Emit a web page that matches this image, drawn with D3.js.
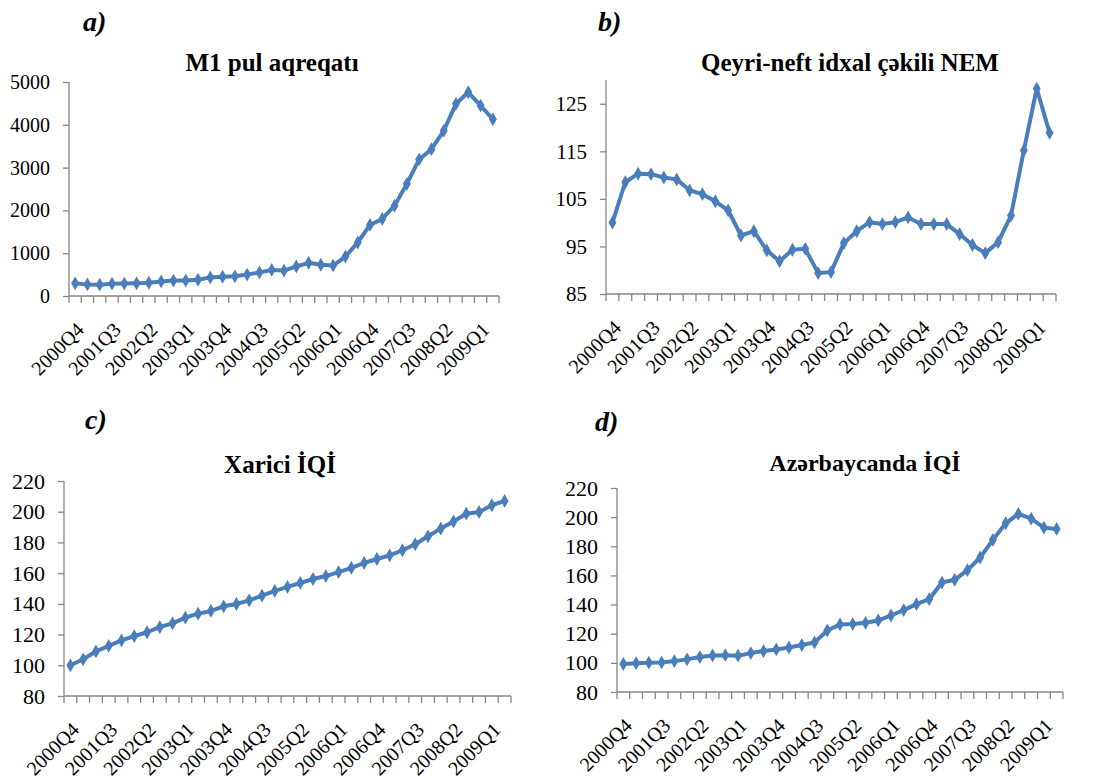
<!DOCTYPE html>
<meta charset="utf-8">
<script src="https://cdn.jsdelivr.net/npm/d3@7"></script>
<body style="margin:0;background:#fff">
<svg id="chart" width="1093" height="778"></svg>
<script>

// quarters on the x axis, 2000Q4 .. 2009Q2
var quarters = ["2000Q4",
	"2001Q1","2001Q2","2001Q3","2001Q4",
	"2002Q1","2002Q2","2002Q3","2002Q4",
	"2003Q1","2003Q2","2003Q3","2003Q4",
	"2004Q1","2004Q2","2004Q3","2004Q4",
	"2005Q1","2005Q2","2005Q3","2005Q4",
	"2006Q1","2006Q2","2006Q3","2006Q4",
	"2007Q1","2007Q2","2007Q3","2007Q4",
	"2008Q1","2008Q2","2008Q3","2008Q4",
	"2009Q1","2009Q2"]
// only every third quarter gets a label
var shownQuarters = ["2000Q4","2001Q3","2002Q2","2003Q1","2003Q4","2004Q3",
	"2005Q2","2006Q1","2006Q4","2007Q3","2008Q2","2009Q1"]

// a) M1 pul aqreqati
var m1 = [295,270,265,288,290,295,310,340,360,360,380,435,450,460,500,550,610,595,
	690,775,730,710,920,1250,1660,1800,2110,2620,3190,3430,3860,4490,4760,4450,4130]
var m1Ticks = [0,1000,2000,3000,4000,5000]

// b) Qeyri-neft idxal cekili NEM
var nem = [100,108.5,110.3,110.2,109.5,109.1,106.8,106,104.5,102.6,97.3,98.2,94.2,91.9,
	94.3,94.5,89.4,89.6,95.7,98.2,100.1,99.7,100.1,101.1,99.7,99.7,99.7,97.6,95.3,93.6,
	95.9,101.5,115.2,128.2,118.9]
var nemTicks = [85,95,105,115,125]

// c) Xarici IQI
var xariciIqi = [100,103.9,109,112.6,116.2,119,121.5,124.9,127.3,131,133.6,135.4,138.4,
	139.9,142.3,145.3,148.4,151,153.6,156.2,158.1,160.7,163.4,166.6,169.2,171.6,174.9,
	178.8,184,189,193.7,198.7,199.8,204.2,207]
var iqiTicks = [80,100,120,140,160,180,200,220]

// d) Azerbaycanda IQI
var azIqi = [99.2,99.8,100.1,100.3,101.2,102.4,104,105.1,105.3,104.9,106.7,108.1,109.2,
	110.6,112.2,114,122.2,126.4,126.6,127.5,129.1,132.5,136.2,140.3,143.7,155.1,157,163.6,
	172.3,184.4,195.8,202.2,199,192.8,191.9]

var lineColor = "#4A7EBB"
var axisColor = "#868686"
var font = "Liberation Serif"

var svg = d3.select("#chart")

var panels = [
	{tag:"a)", tagX:83, tagY:31, title:"M1 pul aqreqatı", titleX:272, titleY:71, titleSize:25,
	 values:m1, ticks:m1Ticks, domain:[0,5000],
	 x0:69, x1:499, top:82, bottom:296, ySize:20},
	{tag:"b)", tagX:598, tagY:31, title:"Qeyri-neft idxal çəkili NEM", titleX:850, titleY:71, titleSize:25,
	 values:nem, ticks:nemTicks, domain:[85,130],
	 x0:606, x1:1056, top:80, bottom:294, ySize:21},
	{tag:"c)", tagX:85, tagY:429, title:"Xarici İQİ", titleX:280, titleY:473, titleSize:25,
	 values:xariciIqi, ticks:iqiTicks, domain:[80,220],
	 x0:64, x1:511, top:481, bottom:696, ySize:22},
	{tag:"d)", tagX:595, tagY:431, title:"Azərbaycanda İQİ", titleX:865, titleY:471, titleSize:24,
	 values:azIqi, ticks:iqiTicks, domain:[80,220],
	 x0:617, x1:1063, top:488, bottom:692, ySize:22}
]

panels.forEach(drawPanel)

function drawPanel(p){
	var g = svg.append("g")

	g.append("text").attr("x",p.tagX).attr("y",p.tagY)
		.style("font-family",font).style("font-size","28px")
		.style("font-weight","bold").style("font-style","italic")
		.text(p.tag)
	g.append("text").attr("x",p.titleX).attr("y",p.titleY)
		.attr("text-anchor","middle")
		.style("font-family",font).style("font-size",p.titleSize+"px").style("font-weight","bold")
		.text(p.title)

	var x = d3.scaleBand().domain(quarters).range([p.x0,p.x1])
	var y = d3.scaleLinear().domain(p.domain).range([p.bottom,p.top])
	var cx = function(q){ return x(q) + x.bandwidth()/2 }

	// y axis
	var yAxis = g.append("g").attr("transform","translate("+p.x0+",0)")
		.call(d3.axisLeft(y).tickValues(p.ticks).tickFormat(d3.format("d"))
			.tickSize(6).tickPadding(13).tickSizeOuter(0))
	yAxis.select(".domain").attr("d","M0,"+p.top+"V"+p.bottom)
	yAxis.selectAll("line,path").attr("stroke",axisColor).attr("stroke-width",1.3)
	yAxis.selectAll("text").style("font-family",font)
		.style("font-size",p.ySize+"px").attr("fill","#000")

	// x axis: ticks sit on the category boundaries
	var xAxis = g.append("g").attr("transform","translate(0,"+p.bottom+")")
	xAxis.append("path").attr("d","M"+p.x0+",0H"+p.x1)
		.attr("stroke",axisColor).attr("stroke-width",1.3)
	xAxis.selectAll(".tick").data(quarters.concat(["end"])).enter().append("line")
		.attr("x1",function(d,i){ return i<quarters.length ? x(d) : p.x1 })
		.attr("x2",function(d,i){ return i<quarters.length ? x(d) : p.x1 })
		.attr("y1",0).attr("y2",7)
		.attr("stroke",axisColor).attr("stroke-width",1.3)
	xAxis.selectAll(".lbl").data(shownQuarters).enter().append("text")
		.attr("text-anchor","end")
		.attr("transform",function(d){ return "translate("+(cx(d)+10)+",35) rotate(-45)" })
		.style("font-family",font).style("font-size","20px")
		.text(function(d){ return d })

	var pts = quarters.map(function(q,i){ return [cx(q), y(p.values[i])] })

	g.append("path").attr("d",d3.line()(pts))
		.attr("fill","none").attr("stroke",lineColor)
		.attr("stroke-width",4).attr("stroke-linejoin","round")

	g.selectAll(".mk").data(pts).enter().append("path")
		.attr("transform",function(d){ return "translate("+d[0]+","+d[1]+")" })
		.attr("d",d3.symbol(d3.symbolDiamond,55))
		.attr("fill",lineColor)
}

</script>
</body>
